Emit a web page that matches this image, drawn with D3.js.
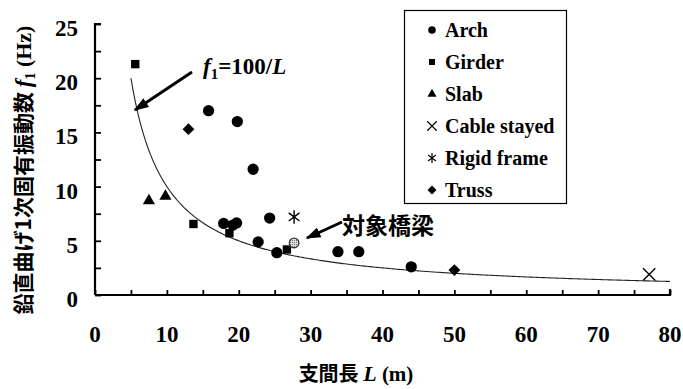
<!DOCTYPE html>
<html>
<head>
<meta charset="utf-8">
<script src="https://cdn.jsdelivr.net/npm/d3@7"></script>
<style>
  html, body { margin: 0; padding: 0; background: #fff; }
  svg { display: block; }
  .serif { font-family: "Liberation Serif", "Times New Roman", serif; font-weight: bold; }
  .jp { font-family: "Noto Sans CJK JP", sans-serif; font-weight: bold; }
</style>
</head>
<body>
<svg id="chart" width="683" height="389"></svg>
<script>
// Span length L (m) and first vertical bending frequency f1 (Hz), per bridge type
const archL     = [15.8, 19.8, 22.0, 17.9, 19.2, 19.7, 24.3, 22.7, 25.3, 33.8, 36.7, 44.0];
const archF     = [17.0, 16.0, 11.6, 6.6, 6.45, 6.65, 7.1, 4.9, 3.9, 4.0, 4.0, 2.6];
const girderL   = [5.6, 13.7, 18.7, 26.7];
const girderF   = [21.3, 6.55, 5.7, 4.2];
const slabL     = [7.5, 9.8];
const slabF     = [8.7, 9.1];
const cableL    = [77.1];
const cableF    = [1.9];
const rigidL    = [27.7];
const rigidF    = [7.2];
const trussL    = [13.0, 50.0];
const trussF    = [15.3, 2.3];
const targetL   = [27.7];
const targetF   = [4.8];

const xTicks = [0, 10, 20, 30, 40, 50, 60, 70, 80];
const yTicks = [0, 5, 10, 15, 20, 25];
const legendLabels = ["Arch", "Girder", "Slab", "Cable stayed", "Rigid frame", "Truss"];

const svg = d3.select("#chart");
const x = d3.scaleLinear().domain([0, 80]).range([95, 670]);
const y = d3.scaleLinear().domain([0, 25]).range([295, 24]);

// Hatched fill for the studied bridge
const defs = svg.append("defs");
const pat = defs.append("pattern").attr("id", "hatch").attr("patternUnits", "userSpaceOnUse")
  .attr("width", 2).attr("height", 2);
pat.append("rect").attr("width", 2).attr("height", 2).attr("fill", "#ddd");
pat.append("rect").attr("width", 1).attr("height", 1).attr("fill", "#777");

// Axes: inward ticks, x every 5, y every 2.5
const xAxis = d3.axisBottom(x).tickValues(d3.range(0, 81, 5)).tickSize(-5).tickFormat("");
const yAxis = d3.axisLeft(y).tickValues(d3.range(0, 25.1, 2.5)).tickSize(-6).tickFormat("");
const gx = svg.append("g").attr("transform", `translate(0,${y(0)})`).call(xAxis);
const gy = svg.append("g").attr("transform", `translate(${x(0)},0)`).call(yAxis);
[gx, gy].forEach(g => {
  g.select(".domain").attr("stroke", "#000").attr("stroke-width", 2.2);
  g.selectAll(".tick line").attr("stroke", "#000").attr("stroke-width", 1.8);
});
gx.select(".domain").attr("d", `M${x(0)},0H${x(80)}V-6`);
gy.select(".domain").attr("d", `M0,${y(0)}V${y(25)}H6`);

// Tick labels
svg.append("g").selectAll("text").data(xTicks).join("text")
  .attr("class", "serif").attr("x", d => x(d)).attr("y", 342)
  .attr("text-anchor", "middle").attr("font-size", 23).text(d => d);
svg.append("g").selectAll("text").data(yTicks).join("text")
  .attr("class", "serif").attr("x", 78).attr("y", d => y(d) + 12)
  .attr("text-anchor", "end").attr("font-size", 23).text(d => d);

// Axis titles
const xt = svg.append("text").attr("x", 356).attr("y", 381).attr("text-anchor", "middle").attr("font-size", 20);
xt.append("tspan").attr("class", "jp").text("支間長 ");
xt.append("tspan").attr("class", "serif").attr("font-style", "italic").attr("font-size", 22).text("L");
xt.append("tspan").attr("class", "serif").attr("font-size", 21).text(" (m)");

const yt = svg.append("text").attr("transform", "translate(31,170) rotate(-90)")
  .attr("text-anchor", "middle").attr("font-size", 21);
yt.append("tspan").attr("class", "jp").text("鉛直曲げ1次固有振動数 ");
yt.append("tspan").attr("class", "serif").attr("font-style", "italic").attr("font-size", 23).text("f");
yt.append("tspan").attr("class", "serif").attr("font-size", 14).attr("dy", 4).text("1");
yt.append("tspan").attr("class", "serif").attr("font-size", 22).attr("dy", -4).text(" (Hz)");

// Reference curve f1 = 100 / L
const curveL = d3.range(5, 80.01, 0.25);
svg.append("path").datum(curveL)
  .attr("fill", "none").attr("stroke", "#222").attr("stroke-width", 1.1)
  .attr("d", d3.line().x(d => x(d)).y(d => y(100 / d)));

// Custom symbol types: square diamond and a vertical-bar asterisk
const squareDiamond = {
  draw(ctx, size) {
    const r = Math.sqrt(size / 2);
    ctx.moveTo(0, -r); ctx.lineTo(r, 0); ctx.lineTo(0, r); ctx.lineTo(-r, 0); ctx.closePath();
  }
};
const barStar = {
  draw(ctx, size) {
    const r = Math.sqrt(size) * 0.55;
    const dx = r * 0.8, dy = r * 0.6;
    ctx.moveTo(0, -r); ctx.lineTo(0, r);
    ctx.moveTo(-dx, -dy); ctx.lineTo(dx, dy);
    ctx.moveTo(-dx, dy); ctx.lineTo(dx, -dy);
  }
};

// Markers
const sym = {
  circle: d3.symbol(d3.symbolCircle, 100),
  square: d3.symbol(d3.symbolSquare, 70),
  triangle: d3.symbol(d3.symbolTriangle, 64),
  diamond: d3.symbol(squareDiamond, 70),
  cross: d3.symbol(d3.symbolX, 100),
  star: d3.symbol(barStar, 150)
};
function plot(Ls, Fs, shape, filled) {
  const pts = Ls.map((L, i) => [L, Fs[i]]);
  svg.append("g").selectAll("path").data(pts).join("path")
    .attr("transform", d => `translate(${x(d[0])},${y(d[1])})`)
    .attr("d", sym[shape])
    .attr("fill", filled ? "#000" : "none")
    .attr("stroke", "#000").attr("stroke-width", filled ? 0 : 1.4);
}
plot(trussL, trussF, "diamond", true);
plot(girderL, girderF, "square", true);
plot(slabL, slabF, "triangle", true);
plot(archL, archF, "circle", true);
plot(cableL, cableF, "cross", false);
plot(rigidL, rigidF, "star", false);

svg.append("g").selectAll("circle").data(targetL).join("circle")
  .attr("cx", d => x(d)).attr("cy", (d, i) => y(targetF[i])).attr("r", 4.8)
  .attr("fill", "url(#hatch)").attr("stroke", "#333").attr("stroke-width", 1.3);

// Arrows with annotation
defs.append("marker").attr("id", "head").attr("viewBox", "0 0 10 10")
  .attr("refX", 9).attr("refY", 5).attr("markerWidth", 5).attr("markerHeight", 5)
  .attr("orient", "auto").attr("markerUnits", "strokeWidth")
  .append("path").attr("d", "M0,1.5L10,5L0,8.5Z").attr("fill", "#000");

svg.append("line").attr("x1", 192).attr("y1", 72).attr("x2", 135).attr("y2", 110)
  .attr("stroke", "#000").attr("stroke-width", 3).attr("marker-end", "url(#head)");
svg.append("line").attr("x1", 342).attr("y1", 222).attr("x2", 307).attr("y2", 238)
  .attr("stroke", "#000").attr("stroke-width", 3).attr("marker-end", "url(#head)");

const fl = svg.append("text").attr("class", "serif").attr("x", 203).attr("y", 74).attr("font-size", 23);
fl.append("tspan").attr("font-style", "italic").text("f");
fl.append("tspan").attr("font-size", 15).attr("dy", 5).text("1");
fl.append("tspan").attr("dy", -5).text("=100/");
fl.append("tspan").attr("font-style", "italic").text("L");

svg.append("text").attr("class", "jp").attr("x", 342).attr("y", 234).attr("font-size", 23).text("対象橋梁");

// Legend
svg.append("rect").attr("x", 404.5).attr("y", 10.5).attr("width", 162).attr("height", 193)
  .attr("fill", "#fff").attr("stroke", "#000").attr("stroke-width", 1.2);
const legendShapes = [["circle", true], ["square", true], ["triangle", true], ["cross", false], ["star", false], ["diamond", true]];
const legendSym = {
  circle: d3.symbol(d3.symbolCircle, 45),
  square: d3.symbol(d3.symbolSquare, 36),
  triangle: d3.symbol(d3.symbolTriangle, 36),
  diamond: d3.symbol(squareDiamond, 40),
  cross: d3.symbol(d3.symbolX, 60),
  star: d3.symbol(barStar, 80)
};
const lg = svg.append("g").selectAll("g").data(legendLabels).join("g")
  .attr("transform", (d, i) => `translate(432,${30 + i * 32})`);
lg.append("path").attr("d", (d, i) => legendSym[legendShapes[i][0]]())
  .attr("fill", (d, i) => legendShapes[i][1] ? "#000" : "none")
  .attr("stroke", "#000").attr("stroke-width", (d, i) => legendShapes[i][1] ? 0 : 1.2);
lg.append("text").attr("class", "serif").attr("x", 13).attr("y", 7).attr("font-size", 20).text(d => d);
</script>
</body>
</html>
